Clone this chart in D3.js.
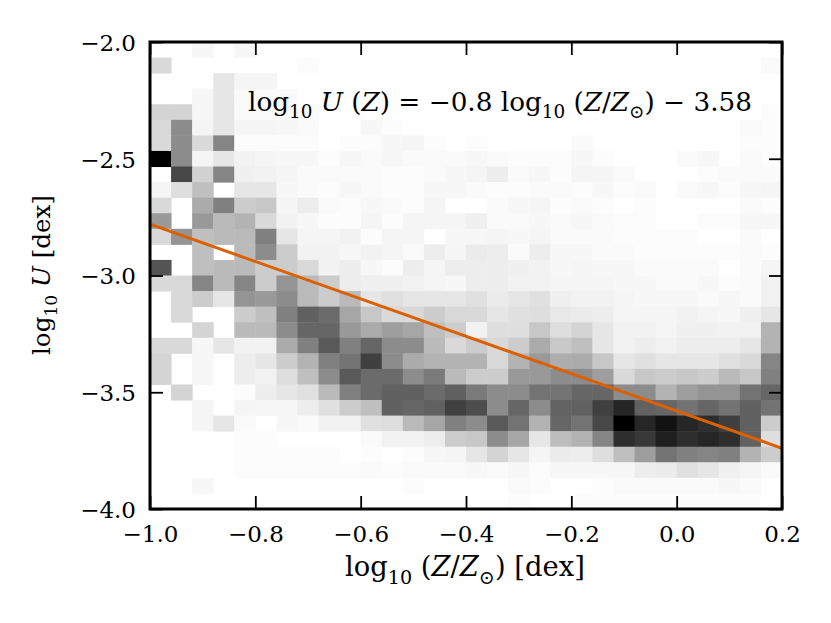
<!DOCTYPE html>
<html>
<head>
<meta charset="utf-8">
<script src="https://cdn.jsdelivr.net/npm/d3@7"></script>
<style>
  body { margin: 0; background: #fff; }
  text { font-family: "DejaVu Serif", serif; fill: #000; white-space: pre; }
</style>
</head>
<body>
<svg id="chart" width="831" height="623"></svg>
<script>
// bin grid of the 2D histogram
const xBinRange = [-1.0, 0.2];
const yBinRange = [-4.0, -2.0];
const nBinsX = 30;
const nBinsY = 30;

const xTicks = [-1.0, -0.8, -0.6, -0.4, -0.2, 0.0, 0.2];
const yTicks = [-4.0, -3.5, -3.0, -2.5, -2.0];

// fit: log U = slope * log(Z/Zsun) + intercept
const fitSlope = -0.8;
const fitIntercept = -3.58;

// relative density per bin (0-100), rows listed from top (logU = -2.0) to bottom (logU = -4.0),
// columns from log(Z/Zsun) = -1.0 to 0.2
const density = [
  [0,0,3,0,3,0,0,0,0,0, 0,0,0,0,0,0,0,0,0,0, 0,0,0,0,0,0,0,0,0,0],
  [15,0,0,0,0,0,0,1,0,0, 0,0,0,0,0,0,0,0,0,0, 0,0,0,0,0,0,0,0,0,2],
  [0,0,0,10,4,4,0,0,0,0, 0,0,0,0,0,0,0,0,0,0, 0,0,0,0,0,0,0,0,0,0],
  [0,0,3,10,2,2,2,0,0,0, 0,0,0,0,0,0,0,0,0,0, 0,0,0,0,0,0,0,0,0,0],
  [17,17,3,10,2,2,2,1,0,0, 0,0,0,0,0,0,0,0,0,0, 0,0,0,0,0,0,0,0,0,1],
  [15,45,4,10,4,4,3,2,0,0, 3,1,0,0,0,0,0,0,0,0, 0,0,0,0,0,0,0,0,2,1],
  [15,45,15,48,1,1,1,1,0,1, 1,3,4,1,0,1,0,0,0,0, 2,0,0,0,0,0,0,0,1,1],
  [100,45,4,10,5,4,3,3,1,3, 2,3,2,2,2,3,2,1,1,1, 3,1,0,0,0,2,3,0,2,1],
  [0,72,18,48,6,5,4,2,2,2, 2,1,1,2,3,4,7,2,3,1, 4,4,2,0,0,0,1,2,2,2],
  [4,13,25,0,10,10,3,2,1,3, 2,1,1,3,3,2,1,1,2,2, 1,3,1,2,0,2,3,1,3,4],
  [15,0,33,50,20,22,4,7,2,1, 3,2,1,4,0,0,2,3,4,1, 2,1,0,1,0,0,0,0,2,1],
  [40,0,40,27,30,15,5,3,1,1, 4,1,4,4,4,6,2,2,3,2, 3,2,1,1,0,0,1,1,3,3],
  [15,42,25,27,27,50,10,4,4,5, 1,4,4,0,3,3,4,3,4,2, 2,2,1,1,1,1,0,0,2,0],
  [0,0,25,0,27,45,20,5,5,3, 5,4,2,7,4,8,7,2,7,3, 3,2,2,1,1,1,1,1,2,1],
  [67,0,25,27,27,20,20,15,5,7, 3,1,7,4,7,7,7,6,5,3, 4,3,3,2,2,2,2,0,2,4],
  [15,15,48,27,48,20,42,27,20,7, 6,6,5,4,3,7,7,5,5,4, 4,4,3,3,2,2,3,1,2,5],
  [0,15,20,10,42,40,45,27,20,27, 10,12,10,10,10,12,8,10,12,6, 5,5,4,3,3,3,2,3,2,5],
  [0,15,0,0,20,25,50,62,58,35, 22,15,15,20,15,15,10,12,13,9, 8,7,4,4,4,5,4,3,6,10],
  [0,0,17,0,27,27,45,60,60,40, 33,38,35,25,20,5,13,13,22,13, 17,10,5,5,4,6,6,5,5,30],
  [15,15,3,10,5,5,33,50,65,50, 60,45,45,27,15,20,15,20,33,21, 25,10,5,7,5,7,7,7,10,30],
  [17,0,3,0,7,10,20,30,50,55, 75,45,33,30,30,30,15,30,40,32, 33,22,10,12,10,10,10,12,15,48],
  [17,0,3,0,7,5,13,25,45,65, 58,58,45,52,27,20,20,40,40,45, 45,38,15,22,20,22,20,27,22,50],
  [0,17,0,0,1,7,10,12,27,50, 58,62,62,58,62,52,45,45,55,55, 60,60,45,45,30,38,42,42,55,60],
  [0,0,4,0,4,3,3,7,12,20, 25,62,60,62,75,70,45,60,45,61, 62,75,85,62,60,55,60,55,62,55],
  [0,0,4,10,2,0,3,2,5,5, 12,13,27,35,50,45,65,55,30,60, 55,72,100,85,93,85,82,75,62,20],
  [0,0,0,0,1,1,0,0,0,0, 2,5,5,7,20,22,45,35,10,26, 30,48,82,78,88,82,85,82,62,13],
  [0,0,0,0,1,1,1,1,1,0, 1,0,1,3,4,10,17,10,4,8, 7,13,25,38,55,50,48,50,30,20],
  [0,0,0,0,1,1,1,1,1,1, 2,1,2,2,2,3,2,3,1,3, 3,3,3,7,8,12,10,6,4,2],
  [0,0,3,0,0,0,0,0,0,0, 0,0,1,0,0,0,0,2,1,0, 0,1,2,2,2,2,2,3,2,0],
  [0,0,0,0,0,0,0,0,0,0, 0,0,0,0,0,0,0,1,0,0, 1,1,1,1,1,1,1,1,1,0]
];

const svg = d3.select("#chart");
const area = { left: 150, right: 782, top: 42, bottom: 509 };

const scaleX = d3.scaleLinear().domain(xBinRange).range([area.left, area.right]);
const scaleY = d3.scaleLinear().domain(yBinRange).range([area.bottom, area.top]);
const color = d3.scaleLinear().domain([0, 100]).range(["#ffffff", "#000000"]);

const dx = (xBinRange[1] - xBinRange[0]) / nBinsX;
const dy = (yBinRange[1] - yBinRange[0]) / nBinsY;

// flatten into cells
let cells = [];
density.forEach((row, r) => {
  row.forEach((v, c) => {
    cells.push({
      x0: xBinRange[0] + c * dx,
      x1: xBinRange[0] + (c + 1) * dx,
      y1: yBinRange[1] - r * dy,
      y0: yBinRange[1] - (r + 1) * dy,
      v: v
    });
  });
});

svg.append("defs").append("clipPath").attr("id", "plotclip")
  .append("rect")
  .attr("x", area.left).attr("y", area.top)
  .attr("width", area.right - area.left).attr("height", area.bottom - area.top);

const plot = svg.append("g").attr("clip-path", "url(#plotclip)");

plot.selectAll("rect.cell")
  .data(cells.filter(d => d.v > 0))
  .enter()
  .append("rect")
  .attr("class", "cell")
  .attr("x", d => scaleX(d.x0))
  .attr("y", d => scaleY(d.y1))
  .attr("width", d => scaleX(d.x1) - scaleX(d.x0) + 0.5)
  .attr("height", d => scaleY(d.y0) - scaleY(d.y1) + 0.5)
  .style("fill", d => color(d.v));

// fit line
const fitLine = d3.line()
  .x(d => scaleX(d))
  .y(d => scaleY(fitSlope * d + fitIntercept));

plot.append("path")
  .datum(xBinRange)
  .attr("d", fitLine)
  .attr("fill", "none")
  .attr("stroke", "#dd6000")
  .attr("stroke-width", 3);

// axes: inward ticks on all four sides
const tickLen = 13;
const fmt = d3.format(".1f");

function styleAxis(g) {
  g.select(".domain").remove();
  g.selectAll(".tick line").attr("stroke", "#000").attr("stroke-width", 1.8);
}

svg.append("g")
  .attr("transform", `translate(0,${area.bottom})`)
  .call(d3.axisBottom(scaleX).tickValues(xTicks).tickSizeInner(-tickLen).tickSizeOuter(0).tickFormat(fmt))
  .call(styleAxis)
  .call(g => g.selectAll(".tick text")
    .attr("y", 33).attr("dy", null)
    .attr("font-size", 23).attr("font-family", "DejaVu Serif"));

svg.append("g")
  .attr("transform", `translate(0,${area.top})`)
  .call(d3.axisTop(scaleX).tickValues(xTicks).tickSizeInner(-tickLen).tickSizeOuter(0).tickFormat(""))
  .call(styleAxis);

svg.append("g")
  .attr("transform", `translate(${area.left},0)`)
  .call(d3.axisLeft(scaleY).tickValues(yTicks).tickSizeInner(-tickLen).tickSizeOuter(0).tickFormat(fmt))
  .call(styleAxis)
  .call(g => g.selectAll(".tick text")
    .attr("x", -14).attr("dy", "0.36em")
    .attr("font-size", 23).attr("font-family", "DejaVu Serif"));

svg.append("g")
  .attr("transform", `translate(${area.right},0)`)
  .call(d3.axisRight(scaleY).tickValues(yTicks).tickSizeInner(-tickLen).tickSizeOuter(0).tickFormat(""))
  .call(styleAxis);

// frame
svg.append("rect")
  .attr("x", area.left).attr("y", area.top)
  .attr("width", area.right - area.left).attr("height", area.bottom - area.top)
  .attr("fill", "none").attr("stroke", "#000").attr("stroke-width", 3);

// math-like text built from tspans; fitted to a target width
function mathText(parent, parts, size, targetWidth) {
  const t = parent.append("text").attr("font-size", size);
  let shifted = false;
  parts.forEach(p => {
    const s = t.append("tspan").text(p.t);
    if (p.i) s.attr("font-style", "italic");
    if (p.sub) {
      s.attr("font-size", size * 0.7);
      if (!shifted) { s.attr("dy", size * 0.28); shifted = true; }
    } else if (shifted) {
      s.attr("dy", -size * 0.28); shifted = false;
    }
  });
  if (targetWidth) {
    const w = t.node().getComputedTextLength();
    const k = targetWidth / w;
    t.attr("font-size", size * k);
    t.selectAll("tspan").each(function () {
      const el = d3.select(this);
      if (el.attr("font-size")) el.attr("font-size", +el.attr("font-size") * k);
      if (el.attr("dy")) el.attr("dy", +el.attr("dy") * k);
    });
  }
  return t;
}

const annParts = [
  {t: "log"}, {t: "10", sub: 1}, {t: " "}, {t: "U", i: 1}, {t: " ("}, {t: "Z", i: 1},
  {t: ") = −0.8 log"}, {t: "10", sub: 1}, {t: " ("}, {t: "Z", i: 1}, {t: "/"}, {t: "Z", i: 1},
  {t: "⊙", sub: 1}, {t: ") − 3.58"}
];
mathText(svg.append("g").attr("transform", "translate(248,111)"), annParts, 22, 504);

const xLabelParts = [
  {t: "log"}, {t: "10", sub: 1}, {t: " ("}, {t: "Z", i: 1}, {t: "/"}, {t: "Z", i: 1},
  {t: "⊙", sub: 1}, {t: ") [dex]"}
];
mathText(svg.append("g").attr("transform", "translate(345,576)"), xLabelParts, 22, 240);

const yLabelParts = [
  {t: "log"}, {t: "10", sub: 1}, {t: " "}, {t: "U", i: 1}, {t: " [dex]"}
];
mathText(svg.append("g").attr("transform", "translate(50,355) rotate(-90)"), yLabelParts, 22, 160);
</script>
</body>
</html>
